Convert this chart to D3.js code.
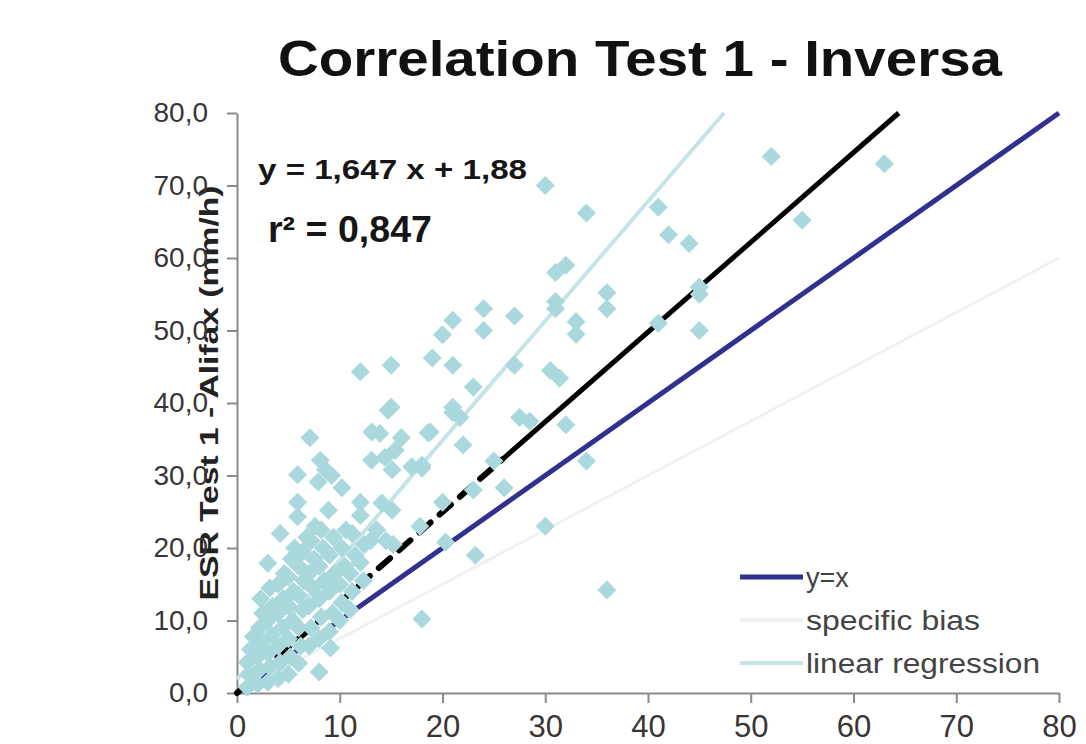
<!DOCTYPE html>
<html>
<head>
<meta charset="utf-8">
<script src="https://cdn.jsdelivr.net/npm/d3@7"></script>
<style>
  body { margin: 0; background: #fff; }
  svg { display: block; font-family: "Liberation Sans", Arial, sans-serif; }
</style>
</head>
<body>
<div id="chart"></div>
<script>
// ESR pairs: x = reference method, y = Test 1 Alifax (mm/h)
const points = [
  [52, 74], [63, 73], [30, 70], [34, 66.2], [41, 67], [42, 63.2], [44, 62], [55, 65.2],
  [45, 56], [45, 55], [45, 50], [41, 51], [36, 55.2], [36, 53], [31, 58], [32, 59],
  [31, 54], [31, 53], [33, 51.2], [33, 49.5], [24, 53], [24, 50], [27, 52], [21, 51.4],
  [20, 49.4], [21, 45.2], [19, 46.2], [23, 42.2], [27, 45.2], [30.5, 44.5], [31.4, 43.4],
  [15, 45.2], [12, 44.3], [15, 39.4], [21, 39.4], [18.8, 36], [21, 38.7], [21.7, 38],
  [22, 34.2], [18, 31], [27.5, 38], [28.5, 37.5], [32, 37], [25, 32], [23, 28], [20, 26.3],
  [26, 28.3], [34, 32], [20.3, 20.8], [23.2, 19], [30, 23], [36, 14.2], [18, 10.2], [17.8, 23],
  [7.1, 35.2], [8.1, 32.1], [8.6, 30.8], [9.2, 30], [5.9, 30.1], [7.9, 29.1], [10.2, 28.3],
  [5.9, 26.3], [5.9, 24.3], [8.9, 25.2], [12, 26.3], [12, 24.5], [14.1, 26.2], [15.1, 25.2],
  [4.2, 22], [14.7, 39], [13.1, 36], [13.9, 35.8], [16, 35.2], [13.1, 32.1], [14.4, 32.5],
  [15.1, 30.8], [15.4, 33.5], [17, 31.2], [18, 31.4], [18.6, 35.9],
  [1, 0.8], [1.2, 2.5], [1, 4.2], [1.3, 6], [1.6, 7.8],
  [2, 1.2], [2.2, 3.2], [2, 5], [2.4, 7], [2.2, 9], [2.5, 11], [2.3, 13],
  [3, 1.5], [3.2, 3.6], [3, 5.5], [3.4, 8], [3, 10], [3.5, 12], [3.2, 14.5], [3, 17.9],
  [4, 2], [4.2, 4.2], [4, 6.5], [4.4, 9], [4, 11], [4.5, 13], [4, 15], [4.6, 16.5],
  [5, 2.6], [5.2, 5], [5, 7.5], [5.4, 10], [5, 12], [5.5, 14], [5, 16], [5.3, 18.5], [5.6, 20],
  [6, 4.1], [6.2, 6.5], [6, 9], [6.4, 11.5], [6, 13.5], [6.5, 15.5], [6, 17.5], [6.4, 19.5], [6.8, 21.5],
  [7, 6.5], [7.2, 9], [7, 12], [7.4, 14.5], [7, 16.5], [7.5, 18.5], [7.2, 21], [7.6, 23],
  [8, 2.9], [8, 7.5], [8.2, 10.5], [8, 13], [8.5, 15.5], [8, 17.5], [8.4, 20], [8.2, 22.5],
  [9, 8.5], [9.1, 6.2], [9.3, 11], [9, 14], [9.5, 16.5], [9, 19], [9.4, 21.5],
  [10, 10], [10.2, 12.5], [10, 15], [10.5, 17.5], [10.2, 20], [10.6, 22.5],
  [11, 11.5], [11.2, 14], [11, 16.5], [11.5, 19], [11.2, 22],
  [12.3, 15.5], [12, 18], [12.4, 20.5], [13, 21], [13.6, 22.5], [14.5, 21], [15.2, 20.5]
];

// reference lines (endpoints)
const identityLine = [[0, 0], [80, 80]];
const biasLine = [[0, 0], [80, 60]];
const regressionLine = [[0, 1.88], [47.4, 80]];
const blackDashed = [[0, 0], [25.8, 32.2]];
const blackSolid = [[25.8, 32.2], [64.4, 80]];

const xTicks = [0, 10, 20, 30, 40, 50, 60, 70, 80];
const yTicks = [0, 10, 20, 30, 40, 50, 60, 70, 80];
const legendItems = ["y=x", "specific bias", "linear regression"];

const width = 1086, height = 744;
const svg = d3.select("#chart").append("svg")
  .attr("width", width)
  .attr("height", height);

svg.append("rect").attr("width", width).attr("height", height).attr("fill", "#fff");

const x = d3.scaleLinear().domain([0, 80]).range([237, 1059]);
const y = d3.scaleLinear().domain([0, 80]).range([693, 113]);

const commaFmt = d3.formatLocale({ decimal: ",", thousands: ".", grouping: [3], currency: ["", ""] });

// title
svg.append("text")
  .attr("x", 640).attr("y", 76)
  .attr("text-anchor", "middle")
  .attr("font-size", 50)
  .attr("font-weight", "bold")
  .attr("fill", "#111")
  .attr("textLength", 724)
  .attr("lengthAdjust", "spacingAndGlyphs")
  .text("Correlation Test 1 - Inversa");

// y axis title
svg.append("text")
  .attr("transform", `translate(218,393) rotate(-90)`)
  .attr("text-anchor", "middle")
  .attr("font-size", 25)
  .attr("font-weight", "bold")
  .attr("fill", "#222")
  .attr("textLength", 415)
  .attr("lengthAdjust", "spacingAndGlyphs")
  .text("ESR  Test 1 - Alifax (mm/h)");

// axes
const yAxis = svg.append("g")
  .attr("transform", `translate(${x(0)},0)`)
  .call(d3.axisLeft(y).tickValues(yTicks).tickSize(10).tickSizeOuter(0).tickPadding(19)
    .tickFormat(commaFmt.format(".1f")));

const xAxis = svg.append("g")
  .attr("transform", `translate(0,${y(0)})`)
  .call(d3.axisBottom(x).tickValues(xTicks).tickSize(10).tickSizeOuter(0).tickPadding(12));

[xAxis, yAxis].forEach(g => {
  g.select(".domain").attr("stroke", "#8a8a8a").attr("stroke-width", 2);
  g.selectAll(".tick line").attr("stroke", "#8a8a8a").attr("stroke-width", 2);
  g.selectAll(".tick text").attr("fill", "#3a3535").attr("font-family", "'Liberation Sans', Arial, sans-serif");
});
yAxis.selectAll(".tick text").attr("font-size", 28);
xAxis.selectAll(".tick text").attr("font-size", 31);

// lines
const line = d3.line().x(d => x(d[0])).y(d => y(d[1]));
const lines = svg.append("g").attr("fill", "none");

lines.append("path").datum(biasLine).attr("d", line)
  .attr("stroke", "#f1f1f1").attr("stroke-width", 3);
lines.append("path").datum(regressionLine).attr("d", line)
  .attr("stroke", "#c6e4e7").attr("stroke-width", 4);
lines.append("path").datum(identityLine).attr("d", line)
  .attr("stroke", "#30308e").attr("stroke-width", 5);
lines.append("path").datum(blackDashed).attr("d", line)
  .attr("stroke", "#000").attr("stroke-width", 6)
  .attr("stroke-dasharray", "15,12")
  .attr("stroke-linecap", "round");
lines.append("path").datum(blackSolid).attr("d", line)
  .attr("stroke", "#000").attr("stroke-width", 5);

// diamonds
const s = 9.5;
svg.append("g").selectAll("path")
  .data(points)
  .join("path")
  .attr("transform", d => `translate(${x(d[0])},${y(d[1])})`)
  .attr("d", `M0,${-s}L${s},0L0,${s}L${-s},0Z`)
  .attr("fill", "#a9d8dd");

// equation text
svg.append("text")
  .attr("x", 258).attr("y", 179)
  .attr("font-size", 28).attr("font-weight", "bold").attr("fill", "#161616")
  .attr("textLength", 269).attr("lengthAdjust", "spacingAndGlyphs")
  .text("y = 1,647 x + 1,88");

svg.append("text")
  .attr("x", 268).attr("y", 242)
  .attr("font-size", 36).attr("font-weight", "bold").attr("fill", "#161616")
  .attr("textLength", 164).attr("lengthAdjust", "spacingAndGlyphs")
  .text("r² = 0,847");

// legend
const legendColors = ["#30308e", "#f1f1f1", "#c6e4e7"];
const legendWidths = [5, 4, 4];
const legendLengths = [52, 174, 234];
const legend = svg.append("g").attr("transform", "translate(740,577)");
legendItems.forEach((name, i) => {
  const row = legend.append("g").attr("transform", `translate(0,${i * 43})`);
  row.append("line")
    .attr("x1", 0).attr("x2", 63).attr("y1", 0).attr("y2", 0)
    .attr("stroke", legendColors[i]).attr("stroke-width", legendWidths[i]);
  row.append("text")
    .attr("x", 66).attr("y", 10)
    .attr("font-size", 27).attr("fill", "#444")
    .attr("textLength", i === 0 ? null : legendLengths[i])
    .attr("lengthAdjust", "spacingAndGlyphs")
    .text(name);
});
</script>
</body>
</html>
